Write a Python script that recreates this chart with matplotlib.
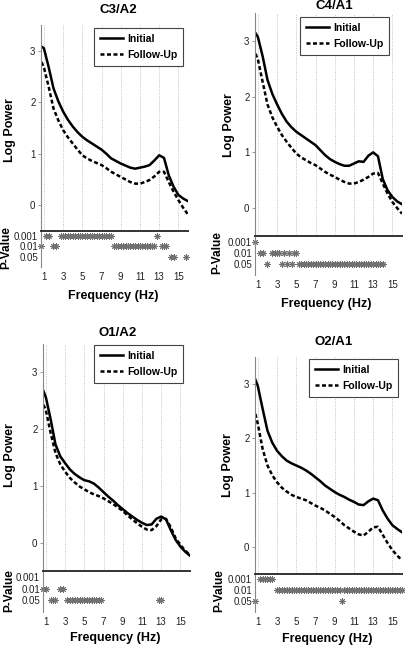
import matplotlib.pyplot as plt
import numpy as np

plt.rcParams['font.family'] = ['Liberation Sans Narrow', 'Liberation Sans', 'DejaVu Sans']

# frequency grid of the spectra (Hz)
freq = [0.75, 1.0, 1.5, 2.0, 2.5, 3.0, 3.5, 4.0, 4.5, 5.0, 5.5, 6.0, 6.5, 7.0, 7.5, 8.0,
        8.5, 9.0, 9.5, 10.0, 10.5, 11.0, 11.5, 12.0, 12.5, 13.0, 13.5, 14.0, 14.5, 15.0, 15.5, 16.0]

c3_initial = [3.08, 3.05, 2.68, 2.27, 2.02, 1.82, 1.66, 1.53, 1.42, 1.33, 1.26, 1.20, 1.14, 1.08, 1.00, 0.91,
              0.86, 0.81, 0.77, 0.73, 0.71, 0.73, 0.75, 0.78, 0.87, 0.97, 0.92, 0.58, 0.36, 0.20, 0.13, 0.08]
c3_follow = [2.78, 2.68, 2.30, 1.88, 1.65, 1.46, 1.32, 1.20, 1.08, 0.97, 0.91, 0.86, 0.82, 0.78, 0.72, 0.65,
             0.60, 0.55, 0.50, 0.45, 0.42, 0.42, 0.45, 0.49, 0.56, 0.65, 0.65, 0.45, 0.26, 0.10, -0.05, -0.18]

c4_initial = [3.14, 3.07, 2.72, 2.30, 2.05, 1.86, 1.69, 1.55, 1.45, 1.37, 1.31, 1.25, 1.19, 1.13, 1.04, 0.95,
              0.88, 0.83, 0.79, 0.76, 0.76, 0.80, 0.84, 0.83, 0.94, 1.00, 0.93, 0.52, 0.32, 0.20, 0.12, 0.07]
c4_follow = [2.77, 2.67, 2.26, 1.86, 1.63, 1.46, 1.31, 1.19, 1.08, 0.98, 0.91, 0.86, 0.81, 0.77, 0.71, 0.65,
             0.60, 0.56, 0.51, 0.47, 0.44, 0.44, 0.47, 0.51, 0.56, 0.62, 0.63, 0.44, 0.26, 0.11, 0.00, -0.10]

o1_initial = [2.67, 2.56, 2.17, 1.73, 1.52, 1.40, 1.29, 1.21, 1.15, 1.10, 1.08, 1.04, 0.97, 0.89, 0.81, 0.74,
              0.66, 0.59, 0.52, 0.46, 0.40, 0.35, 0.31, 0.32, 0.42, 0.46, 0.41, 0.22, 0.05, -0.07, -0.16, -0.23]
o1_follow = [2.43, 2.33, 1.93, 1.58, 1.38, 1.25, 1.14, 1.06, 0.99, 0.94, 0.89, 0.85, 0.82, 0.78, 0.73, 0.68,
             0.62, 0.56, 0.48, 0.41, 0.34, 0.28, 0.23, 0.22, 0.29, 0.41, 0.42, 0.27, 0.08, -0.04, -0.14, -0.22]

o2_initial = [3.08, 2.96, 2.54, 2.14, 1.92, 1.77, 1.67, 1.59, 1.54, 1.50, 1.46, 1.41, 1.35, 1.28, 1.21, 1.13,
              1.07, 1.01, 0.96, 0.92, 0.87, 0.83, 0.78, 0.77, 0.84, 0.89, 0.86, 0.67, 0.52, 0.40, 0.33, 0.27]
o2_follow = [2.45, 2.26, 1.80, 1.50, 1.32, 1.19, 1.09, 1.02, 0.96, 0.92, 0.89, 0.86, 0.81, 0.76, 0.72, 0.67,
             0.61, 0.55, 0.48, 0.40, 0.34, 0.28, 0.23, 0.21, 0.28, 0.36, 0.37, 0.22, 0.07, -0.06, -0.16, -0.25]

# p-value bins: 0.75 .. 16.0 Hz every 0.25 Hz
# level per bin: 0 = n.s., 1 = 0.001, 2 = 0.01, 3 = 0.05
p_freq = np.arange(0.75, 16.01, 0.25)
p_labels = ['0.001', '0.01', '0.05']

c3_sig = [2, 0, 1, 1,  0, 2, 2, 0,  1, 1, 1, 1,  1, 1, 1, 1,  1, 1, 1, 1,  1, 1, 1, 1,
          1, 1, 1, 1,  1, 1, 2, 2,  2, 2, 2, 2,  2, 2, 2, 2,  2, 2, 2, 2,  2, 2, 2, 2,
          1, 0, 2, 2,  2, 0, 3, 3,  0, 0, 0, 0,  3, 0]
c4_sig = [1, 0, 2, 2,  0, 3, 0, 2,  2, 2, 2, 3,  2, 3, 2, 3,  2, 2, 3, 3,  3, 3, 3, 3,
          3, 3, 3, 3,  3, 3, 3, 3,  3, 3, 3, 3,  3, 3, 3, 3,  3, 3, 3, 3,  3, 3, 3, 3,
          3, 3, 3, 3,  3, 3, 0, 0,  0, 0, 0, 0,  0, 0]
o1_sig = [2, 2, 0, 3,  3, 3, 0, 2,  2, 0, 3, 3,  3, 3, 3, 3,  3, 3, 3, 3,  3, 3, 3, 3,
          3, 0, 0, 0,  0, 0, 0, 0,  0, 0, 0, 0,  0, 0, 0, 0,  0, 0, 0, 0,  0, 0, 0, 0,
          3, 3, 0, 0,  0, 0, 0, 0,  0, 0, 0, 0,  0, 0]
o2_sig = [3, 0, 1, 1,  1, 1, 1, 1,  0, 2, 2, 2,  2, 2, 2, 2,  2, 2, 2, 2,  2, 2, 2, 2,
          2, 2, 2, 2,  2, 2, 2, 2,  2, 2, 2, 2,  3, 2, 2, 2,  2, 2, 2, 2,  2, 2, 2, 2,
          2, 2, 2, 2,  2, 2, 2, 2,  2, 2, 2, 2,  2, 2]

titles = ['C3/A2', 'C4/A1', 'O1/A2', 'O2/A1']
initial = [c3_initial, c4_initial, o1_initial, o2_initial]
follow = [c3_follow, c4_follow, o1_follow, o2_follow]
sig = [c3_sig, c4_sig, o1_sig, o2_sig]

W, H = 406, 647
fig = plt.figure(figsize=(W / 100, H / 100), dpi=100)


def px_box(l, t, r, b):
    return [l / W, 1 - b / H, (r - l) / W, (b - t) / H]


def ftext(x, y, s, **kw):
    fig.text(x / W, 1 - y / H, s, ha='center', va='center', weight='bold', **kw)


# pixel layout of each panel: top axes, bottom axes, legend corner, title, labels
layout = [
    dict(top=(41, 25, 188, 231), bot=(41, 231, 188, 267), leg=(183, 28),
         title=(118, 10), lp=(10, 130), pv=(6, 248), fx=(113, 296)),
    dict(top=(255, 13, 402, 236), bot=(255, 236, 402, 275), leg=(389, 17),
         title=(334, 6), lp=(229, 125), pv=(217, 253), fx=(326, 304)),
    dict(top=(43, 344, 190, 571), bot=(43, 571, 190, 612), leg=(183, 345),
         title=(118, 333), lp=(10, 455), pv=(9, 591), fx=(115, 638)),
    dict(top=(255, 357, 402, 574), bot=(255, 574, 402, 612), leg=(398, 359),
         title=(334, 342), lp=(228, 465), pv=(219, 591), fx=(327, 639)),
]

for i in range(4):
    L = layout[i]

    ax = fig.add_axes(px_box(*L['top']))
    ax.plot(freq, initial[i], color='black', lw=1.8, label='Initial')
    ax.plot(freq, follow[i], color='black', lw=1.8, ls=(0, (1.6, 1.0)), label='Follow-Up')
    for f in range(1, 16, 2):
        ax.axvline(f, color='#b0b0b0', lw=0.6, ls=':', zorder=0)
    ax.set_xlim(0.7, 16)
    ax.set_ylim(-0.5, 3.5)
    ax.set_xticks([])
    ax.set_yticks([0, 1, 2, 3])
    for s in ['top', 'right', 'bottom']:
        ax.spines[s].set_visible(False)
    ax.spines['left'].set_color('#888888')
    ax.spines['left'].set_linewidth(0.8)
    ax.tick_params(axis='y', length=2, width=0.6, color='#888888',
                   labelsize=7, labelcolor='#222222', pad=2)
    leg = ax.legend(loc='upper right', bbox_to_anchor=(L['leg'][0] / W, 1 - L['leg'][1] / H),
                    bbox_transform=fig.transFigure, borderaxespad=0, fancybox=False,
                    edgecolor='#444444', framealpha=1, prop=dict(weight='bold', size=7.5),
                    handlelength=2.2, handletextpad=0.4, labelspacing=0.6, borderpad=0.55)
    leg.get_frame().set_linewidth(0.8)

    bx = fig.add_axes(px_box(*L['bot']))
    lv = np.array(sig[i])
    for k in [1, 2, 3]:
        bx.plot(p_freq[lv == k], np.full((lv == k).sum(), k), ls='none',
                marker=(8, 2, 0), ms=4.5, mew=0.7, color='#707070', clip_on=False)
    bx.set_xlim(0.7, 16)
    bx.set_ylim(4.0, 0.5)
    bx.set_yticks([1, 2, 3])
    bx.set_yticklabels(p_labels)
    bx.set_xticks(range(1, 16, 2))
    bx.spines['right'].set_visible(False)
    bx.spines['bottom'].set_visible(False)
    bx.spines['top'].set_color('#333333')
    bx.spines['top'].set_linewidth(1.4)
    bx.spines['left'].set_color('#888888')
    bx.spines['left'].set_linewidth(0.8)
    bx.tick_params(axis='y', length=0, labelsize=7, labelcolor='#222222', pad=2)
    bx.tick_params(axis='x', length=0, labelsize=7, labelcolor='#222222', pad=3.5)

    ftext(*L['title'], titles[i], size=9.5)
    ftext(*L['lp'], 'Log Power', size=9, rotation=90)
    ftext(*L['pv'], 'P-Value', size=8.5, rotation=90)
    ftext(*L['fx'], 'Frequency (Hz)', size=9)

fig.savefig('out.png', dpi=100)
